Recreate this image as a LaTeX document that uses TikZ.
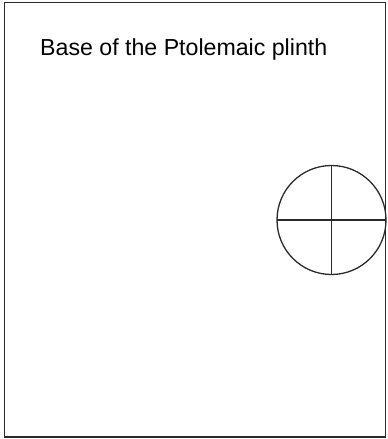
\documentclass[tikz,border=0pt]{standalone}
\usepackage{fontspec}
\setmainfont{Liberation Sans}
\definecolor{ink}{HTML}{2A2A2A}
\begin{document}
\begin{tikzpicture}[x=1pt,y=-1pt,
  frame/.style={draw=ink,line width=1.6pt},
  figline/.style={draw=ink,line width=1.3pt},
  title/.style={anchor=base west,inner sep=0pt,text=black}]
\useasboundingbox (0,0) rectangle (388,439);
\draw[frame] (4.5,2.5) rectangle (385.5,437);
\node[title] (t) at (40,55) {\resizebox{287pt}{!}{Base of the Ptolemaic plinth}};
\coordinate (c) at (331.5,220);
\draw[figline] (c) circle[radius=54.5];
\coordinate (l) at (277,220);
\coordinate (r) at (385.5,220);
\coordinate (u) at (331.5,165.5);
\coordinate (d) at (331.5,274.5);
\draw[figline] (l) -- (r);
\draw[figline] (u) -- (d);
\end{tikzpicture}
\end{document}
